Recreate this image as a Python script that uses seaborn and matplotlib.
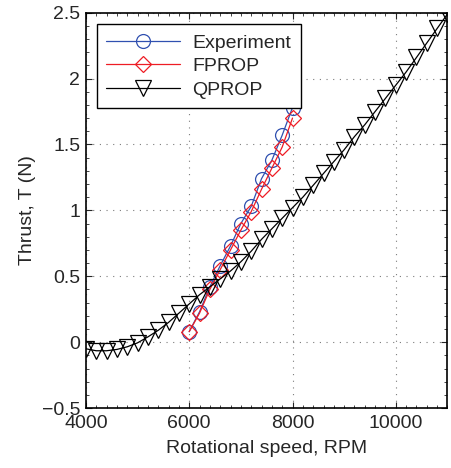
import numpy as np
import pandas as pd
import matplotlib
matplotlib.use("Agg")
import matplotlib.pyplot as plt
import seaborn as sns
from matplotlib.ticker import MultipleLocator

# ==========================================
# data
# ==========================================
rpm_exp = [6000, 6200, 6400, 6600, 6800, 7000, 7200, 7400, 7600, 7800, 8000]
thrust_exp = [0.08, 0.23, 0.42, 0.58, 0.73, 0.90, 1.03, 1.24, 1.38, 1.57, 1.78]

rpm_fprop = [6000, 6200, 6400, 6600, 6800, 7000, 7200, 7400, 7600, 7800, 8000]
thrust_fprop = [0.08, 0.22, 0.40, 0.55, 0.70, 0.85, 0.99, 1.16, 1.32, 1.48, 1.70]

rpm_qprop = list(range(4000, 11001, 200))
thrust_qprop = [-0.05, -0.065, -0.065, -0.055, -0.035, -0.005, 0.04, 0.09, 0.15, 0.22,
                0.29, 0.36, 0.42, 0.48, 0.54, 0.61, 0.69, 0.78, 0.86, 0.94,
                1.02, 1.10, 1.19, 1.28, 1.37, 1.46, 1.56, 1.65, 1.75, 1.85,
                1.95, 2.05, 2.16, 2.27, 2.38, 2.49]

sns.set_style("ticks")
plt.rcParams['font.family'] = ['Liberation Sans', 'DejaVu Sans']

fig = plt.figure(figsize=(4.52, 4.68), dpi=100)
ax = fig.add_axes([0.19, 0.128, 0.800, 0.845])

series = [
    ("Experiment", rpm_exp, thrust_exp, "#3050b0", "o", 10),
    ("FPROP", rpm_fprop, thrust_fprop, "#ee1c24", "D", 8),
    ("QPROP", rpm_qprop, thrust_qprop, "black", "v", 11),
]
for name, xs, ys, col, mk, ms in series:
    df = pd.DataFrame({"rpm": xs, "T": ys})
    sns.lineplot(data=df, x="rpm", y="T", ax=ax, color=col, marker=mk,
                 markersize=ms, markerfacecolor="none", markeredgecolor=col,
                 markeredgewidth=0.9, linewidth=0.9, label=name)

ax.set_xlim(4000, 11000)
ax.set_ylim(-0.5, 2.5)
ax.xaxis.set_major_locator(MultipleLocator(2000))
ax.xaxis.set_minor_locator(MultipleLocator(200))
ax.yaxis.set_minor_locator(MultipleLocator(0.1))
ax.set_yticks([-0.5, 0, 0.5, 1, 1.5, 2, 2.5])
ax.set_yticklabels(["\u22120.5", "0", "0.5", "1", "1.5", "2", "2.5"])

ax.grid(True, which="major", linestyle=(0, (1, 5)), color="#444444", linewidth=0.8, alpha=0.7)
ax.tick_params(which="both", direction="in", top=True, right=True, labelsize=14)
ax.tick_params(axis="x", pad=5)
ax.tick_params(axis="y", pad=4)
ax.tick_params(which="major", length=4)
ax.tick_params(which="minor", length=2)
for s in ax.spines.values():
    s.set_visible(True)
    s.set_linewidth(1.2)
    s.set_color("black")

ax.set_xlabel("Rotational speed, RPM", fontsize=14, labelpad=6)
ax.set_ylabel("Thrust, T (N)", fontsize=14, labelpad=4)

leg = ax.legend(loc="upper left", bbox_to_anchor=(0.03, 0.97), fontsize=14,
                frameon=True, fancybox=False, edgecolor="black", framealpha=1,
                handlelength=3.8, borderpad=0.5, labelspacing=0.3, handletextpad=0.6,
                borderaxespad=0)
leg.get_frame().set_linewidth(1.0)

fig.savefig("out.png", dpi=100)
